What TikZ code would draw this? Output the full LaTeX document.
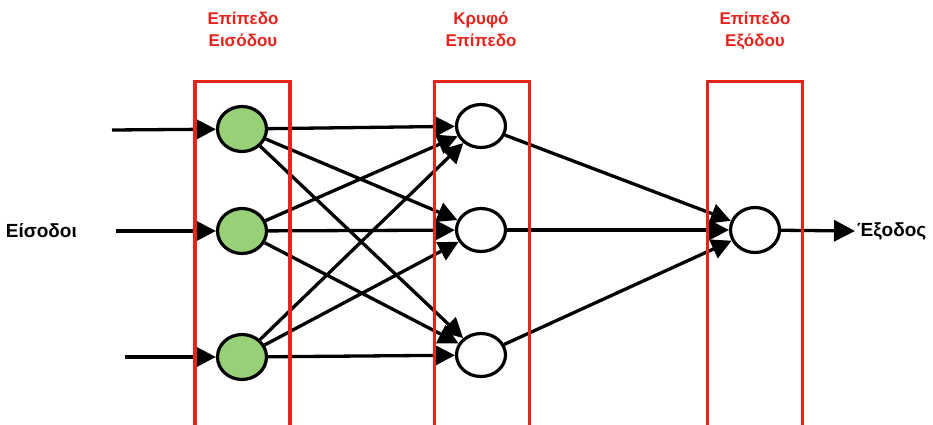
\documentclass[tikz,border=0pt]{standalone}
\usepackage{fontspec}
\setmainfont{Liberation Sans}
\usepackage{tikz}
\usetikzlibrary{arrows.meta,positioning,shapes.geometric}
\definecolor{ink}{HTML}{000000}
\definecolor{layerred}{HTML}{E8231C}
\definecolor{unitgreen}{HTML}{97D077}
\tikzset{
  unit/.style={draw=ink,fill=#1,ellipse,line width=3.2pt,minimum width=49pt,minimum height=45pt,inner sep=0pt},
  unit/.default=white,
  layer/.style={draw=layerred,line width=3.5pt,minimum width=95pt,minimum height=400pt,inner sep=0pt,outer sep=0pt,anchor=north},
  layertitle/.style={text=layerred,font=\fontsize{17}{22}\selectfont\bfseries,align=center,inner sep=0pt,anchor=north},
  caption/.style={text=ink,font=\fontsize{19}{22}\selectfont\bfseries,inner sep=0pt},
  link/.style={-{Triangle[length=20pt,width=20pt]},line width=3.3pt,draw=ink}
}

\begin{document}
\begin{tikzpicture}[x=1pt,y=-1pt]
    \clip (0,0) rectangle (933,425);

    \coordinate (src1) at (112,130);
    \coordinate (src2) at (116,231);
    \coordinate (src3) at (125,357);
    \coordinate (sink) at (855,231);

    \node[unit=unitgreen] (in1) at (242,129) {};
    \node[unit=unitgreen] (in2) at (242,231) {};
    \node[unit=unitgreen] (in3) at (242,357) {};
    \node[unit,minimum height=43pt] (hid1) at (481,126) {};
    \node[unit,minimum height=43pt] (hid2) at (481,230) {};
    \node[unit,minimum height=43pt] (hid3) at (481,355) {};
    \node[unit] (out1) at (755,230) {};

    \draw[link] (src1) -- (in1);
    \draw[link] (src2) -- (in2);
    \draw[link] (src3) -- (in3);

    \draw[link] (in1) -- (hid1);
    \draw[link] (in1) -- (hid2);
    \draw[link] (in1) -- (hid3);
    \draw[link] (in2) -- (hid1);
    \draw[link] (in2) -- (hid2);
    \draw[link] (in2) -- (hid3);
    \draw[link] (in3) -- (hid1);
    \draw[link] (in3) -- (hid2);
    \draw[link] (in3) -- (hid3);

    \draw[link] (hid1) -- (out1);
    \draw[link] (hid2) -- (out1);
    \draw[link] (hid3) -- (out1);
    \draw[link,-{Triangle[length=21pt,width=21pt]}] (out1) -- (sink);

    \node[caption,left=39pt of src2] (inputs) {Είσοδοι};
    \node[caption,right=2pt of sink] (output) {Έξοδος};

    \node[layer] (layIn) at (242.5,81.5) {};
    \node[layer] (layHid) at (482,81.5) {};
    \node[layer] (layOut) at (755,81.5) {};

    \node[layertitle] (tIn) at (243,12) {Επίπεδο\\Εισόδου};
    \node[layertitle] (tHid) at (481,12) {Κρυφό\\Επίπεδο};
    \node[layertitle] (tOut) at (755,12) {Επίπεδο\\Εξόδου};
  \end{tikzpicture}
\end{document}
